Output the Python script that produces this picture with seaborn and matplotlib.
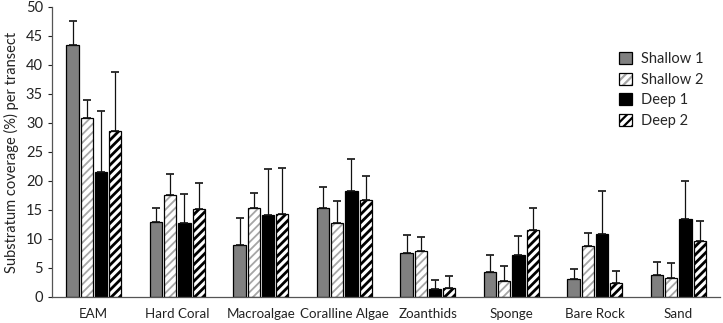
import numpy as np
import pandas as pd
import seaborn as sns
import matplotlib
matplotlib.use("Agg")
import matplotlib.pyplot as plt
from matplotlib.colors import to_rgba

categories = ["EAM", "Hard Coral", "Macroalgae", "Coralline Algae", "Zoanthids",
              "Sponge", "Bare Rock", "Sand"]
series = ["Shallow 1", "Shallow 2", "Deep 1", "Deep 2"]

shallow1 = [43.4, 13.0, 8.9, 15.4, 7.6, 4.35, 3.1, 3.8]
shallow2 = [30.8, 17.5, 15.4, 12.7, 8.0, 2.75, 8.8, 3.3]
deep1 = [21.6, 12.8, 14.1, 18.3, 1.4, 7.3, 10.9, 13.4]
deep2 = [28.7, 15.1, 14.3, 16.8, 1.5, 11.6, 2.4, 9.6]

shallow1_err_top = [47.6, 15.3, 13.6, 18.9, 10.7, 7.2, 4.8, 6.1]
shallow2_err_top = [34.0, 21.2, 18.0, 16.6, 10.3, 5.4, 11.1, 5.8]
deep1_err_top = [32.1, 17.7, 22.0, 23.8, 2.9, 10.5, 18.3, 20.0]
deep2_err_top = [38.7, 19.6, 22.2, 20.9, 3.6, 15.3, 4.5, 13.1]

values = [shallow1, shallow2, deep1, deep2]
err_tops = [shallow1_err_top, shallow2_err_top, deep1_err_top, deep2_err_top]

rows = []
for s, vals in zip(series, values):
    for c, v in zip(categories, vals):
        rows.append({"cat": c, "series": s, "val": v})
df = pd.DataFrame(rows)

sns.set_style("white")
plt.rcParams["font.family"] = ["Lato", "DejaVu Sans"]
plt.rcParams["hatch.linewidth"] = 1.6

fig = plt.figure(figsize=(7.23, 3.23), dpi=100)
ax = fig.add_axes([0.072, 0.0805, 0.924, 0.898])

face = {"Shallow 1": "#808080", "Shallow 2": "white", "Deep 1": "black", "Deep 2": "white"}
sns.barplot(data=df, x="cat", y="val", hue="series", order=categories,
            hue_order=series, palette=face, width=0.68, gap=0.14,
            edgecolor="black", linewidth=0.9, saturation=1, legend=False, ax=ax)

hatches = {"Shallow 2": "////", "Deep 2": "////"}
hatch_cols = {"Shallow 2": "#a6a6a6", "Deep 2": "black"}

for s, cont, tops in zip(series, ax.containers, err_tops):
    xs, hs, es = [], [], []
    for p, t in zip(cont.patches, tops):
        p.set_facecolor(face[s])
        p.set_edgecolor("black")
        if s in hatches:
            p.set_hatch(hatches[s])
            p._hatch_color = to_rgba(hatch_cols[s])
            if hasattr(p, "set_hatch_linewidth"):
                p.set_hatch_linewidth(1.3 if s == "Shallow 2" else 2.0)
        xs.append(p.get_x() + p.get_width() / 2)
        hs.append(p.get_height())
        es.append(t - p.get_height())
    ax.errorbar(xs, hs, yerr=[np.zeros(len(es)), es], fmt="none",
                ecolor="#111111", elinewidth=0.9, capsize=3, capthick=1.2, zorder=1)

ax.set_ylim(0, 50)
ax.set_yticks(range(0, 51, 5))
ax.set_xlim(-0.5, len(categories) - 0.5)
ax.set_xlabel("")
ax.set_ylabel("Substratum coverage (%) per transect", fontsize=10.5, color="#222222", labelpad=5)
ax.tick_params(axis="y", labelsize=10.5, length=3, width=0.8, colors="#222222", left=True, direction="out")
ax.tick_params(axis="x", labelsize=9.6, length=0, pad=8, colors="#222222")
for sp in ["top", "right"]:
    ax.spines[sp].set_visible(False)
for sp in ["left", "bottom"]:
    ax.spines[sp].set_color("#555555")
    ax.spines[sp].set_linewidth(0.9)

leg = ax.legend(ax.containers, series, loc="upper right", bbox_to_anchor=(0.995, 0.89),
                frameon=False, fontsize=10.5, handlelength=0.9, handleheight=0.9,
                labelspacing=0.45, handletextpad=0.6)

fig.savefig("out.png", dpi=100)
